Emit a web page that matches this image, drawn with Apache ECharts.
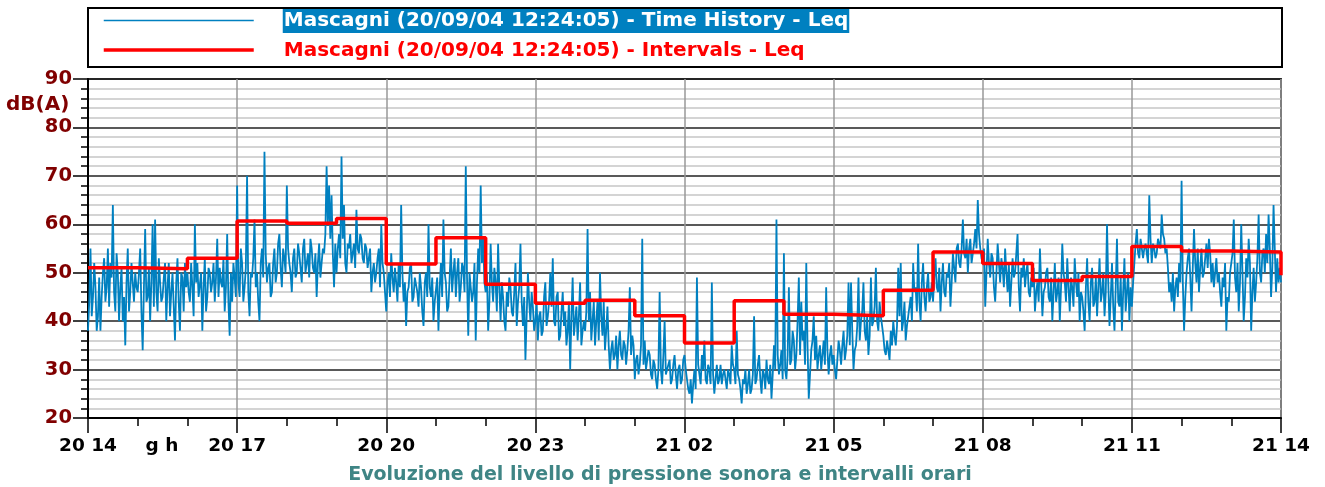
<!DOCTYPE html>
<html><head><meta charset="utf-8">
<script src="https://cdn.jsdelivr.net/npm/echarts@6/dist/echarts.min.js"></script>
<style>html,body{margin:0;padding:0;background:#fff}#c{width:1325px;height:487px}</style>
</head><body><div id="c"></div>
<script>
const FONT = 'DejaVu Sans';
const seriesNames = [
  'Mascagni (20/09/04 12:24:05) - Time History - Leq',
  'Mascagni (20/09/04 12:24:05) - Intervals - Leq'
];
const tickLabels = ['20 14','20 17','20 20','20 23','21 02','21 05','21 08','21 11','21 14'];
const axisUnitLabel = 'g h';
const yUnitLabel = 'dB(A)';
const chartTitle = 'Evoluzione del livello di pressione sonora e intervalli orari';
const sampleMinutes = 1.5;
// time history, one value every 1.5 minutes from 20 14:00 to 21 14:00 (40 per hour)
const timeHistoryLeq = [
  /*14*/ 38,44,55,41,45,52,47,38,41,49,38,45,50,53,44,47,55,43,52,49,64,46,42,54,50,40,47,51,40,45,35,48,55,42,46,52,48,44,50,47,
  /*15*/ 46,50,55,42,34,47,59,44,45,51,40,48,60,43,61,46,42,53,48,44,45,49,52,40,47,52,41,46,50,43,36,48,53,44,38,50,49,42,52,47,
  /*16*/ 50,46,44,52,47,41,60,48,52,45,45,50,38,47,53,42,45,51,50,46,48,52,44,49,57,45,51,48,47,53,42,47,58,44,37,50,44,52,49,45,
  /*17*/ 68,48,45,55,52,44,47,51,70,46,41,50,49,53,61,47,50,44,40,52,55,49,75,54,48,51,52,45,46,52,55,48,50,56,58,51,47,55,53,50,
  /*18*/ 68,55,52,50,46,53,55,49,50,56,54,51,48,55,57,50,52,54,49,57,55,51,50,54,45,52,56,49,52,55,54,58,72,60,68,57,66,54,47,56,
  /*19*/ 50,55,58,53,74,57,64,52,50,56,55,58,52,54,56,51,63,55,54,58,57,53,52,56,55,51,53,55,46,50,52,48,50,53,55,47,60,52,50,46,
  /*20*/ 42,48,50,45,54,49,46,51,48,44,52,47,64,50,44,48,39,46,47,51,52,44,45,49,49,46,43,50,47,42,39,48,50,45,60,47,45,49,40,44,
  /*21*/ 44,49,38,47,52,45,61,50,48,42,43,49,55,46,50,53,45,50,53,44,47,52,51,46,72,49,37,50,50,44,46,52,36,48,55,50,68,52,57,48,
  /*22*/ 46,50,38,44,56,48,44,51,48,42,56,47,40,48,45,40,38,46,43,49,47,42,41,46,52,39,44,47,56,44,39,45,32,41,50,44,40,46,43,38,
  /*23*/ 40,44,36,41,42,37,38,45,48,39,41,44,50,43,53,40,39,45,46,36,37,42,46,39,42,35,38,44,30,41,49,37,40,43,36,41,48,35,38,40,
  /*00*/ 38,42,59,40,46,36,40,44,35,40,44,36,50,41,37,44,34,38,43,35,30,34,36,32,33,37,30,35,38,33,32,36,35,31,34,38,47,33,37,35,
  /*01*/ 28,32,33,29,31,35,57,31,36,30,30,34,33,29,28,32,31,28,26,30,46,30,27,33,40,29,29,31,32,27,28,31,33,29,26,30,31,27,28,32,
  /*02*/ 33,30,28,26,25,28,23,27,30,26,49,31,29,27,33,30,36,28,27,31,30,27,48,29,25,28,31,27,28,31,27,29,30,28,26,30,29,27,35,31,
  /*03*/ 30,27,38,29,28,26,23,28,27,30,25,27,30,25,26,29,41,27,28,31,33,28,25,30,29,26,32,28,27,31,24,29,35,30,61,33,29,31,34,28,
  /*04*/ 54,30,28,33,47,31,32,38,36,30,33,40,49,33,44,36,38,31,52,35,24,29,34,36,41,32,37,30,33,35,30,33,36,31,47,34,29,33,35,31,
  /*05*/ 33,30,28,32,36,34,31,35,38,32,34,37,48,35,48,38,30,34,35,39,49,36,40,42,48,38,36,41,33,37,49,39,40,43,51,40,38,44,41,39,
  /*06*/ 37,34,33,36,36,32,38,35,40,37,35,39,51,41,52,38,40,44,36,39,41,43,45,40,52,46,47,42,56,44,40,48,52,45,42,47,50,44,45,48,
  /*07*/ 44,49,53,47,46,51,42,48,52,46,45,50,49,52,43,48,54,51,48,55,56,52,51,55,61,54,53,57,50,55,57,52,54,56,59,55,65,58,55,53,
  /*08*/ 52,55,43,50,57,52,49,54,53,47,44,50,56,52,48,53,51,47,55,50,46,52,43,48,53,49,50,54,58,47,42,51,49,53,47,50,52,46,45,49,
  /*09*/ 47,51,42,46,48,44,55,48,41,46,47,50,51,45,44,49,40,46,52,44,46,49,40,47,56,50,48,44,53,47,42,49,47,43,53,48,45,50,40,46,
  /*10*/ 45,42,38,47,53,44,40,48,51,43,44,49,41,47,53,44,46,50,41,46,60,48,39,45,52,43,38,47,57,44,43,49,38,46,53,42,46,50,40,47,
  /*11*/ 43,48,52,56,59,54,53,57,57,53,55,56,54,52,66,57,52,56,55,53,54,57,56,55,62,58,57,54,55,51,46,48,44,50,42,47,49,45,52,48,
  /*12*/ 69,48,38,45,50,53,55,49,42,51,59,52,48,55,46,51,55,49,50,53,56,51,57,54,48,52,47,50,53,48,50,46,43,49,47,52,38,45,44,50,
  /*13*/ 50,54,61,49,46,52,42,48,60,50,40,45,53,49,57,52,38,46,51,44,48,53,62,50,48,54,55,50,58,52,62,55,45,51,64,55,46,53,48,51,
  /*14*/ 48
];
// hourly interval Leq from 20 14 to 21 13
const intervalLeq = [51.0,50.8,53.0,60.7,60.2,61.2,51.8,57.2,47.6,43.7,44.3,41.1,
                     35.5,44.2,41.4,41.1,46.4,54.3,51.9,48.4,49.2,55.4,54.5,54.3];
const intervalEndLeq = 49.5;

const timeData = timeHistoryLeq.map((v, i) => [i * sampleMinutes, v]);
const stepData = intervalLeq.map((v, i) => [i * 60, v]);
stepData.push([intervalLeq.length * 60, intervalEndLeq]);

const chart = echarts.init(document.getElementById('c'), null, {renderer: 'canvas'});
chart.setOption({
  animation: false,
  backgroundColor: '#fff',
  textStyle: {fontFamily: FONT},
  title: {
    text: chartTitle, left: 655, textAlign: 'center', top: 461,
    textStyle: {color: '#3f8585', fontSize: 19, fontWeight: 'bold', fontFamily: FONT}
  },
  legend: {
    orient: 'vertical', left: 102, top: 8, padding: 0, itemGap: 7,
    itemWidth: 150, itemHeight: 14, selectedMode: false,
    data: [
      {name: seriesNames[0], itemStyle: {opacity: 0}, lineStyle: {color: '#0080c0', width: 1.5}},
      {name: seriesNames[1], itemStyle: {opacity: 0}, lineStyle: {color: '#ff0000', width: 3.5}}
    ],
    formatter: name => name === seriesNames[0] ? '{g|}{h|' + name + '}' : '{g|}{r|' + name + '}',
    textStyle: {
      fontFamily: FONT, fontSize: 20, fontWeight: 'bold',
      rich: {
        g: {width: 24},
        h: {color: '#fff', backgroundColor: '#0080c0', fontSize: 20, fontWeight: 'bold', fontFamily: FONT, padding: [3, 1, 2, 1]},
        r: {color: '#ff0000', fontSize: 20, fontWeight: 'bold', fontFamily: FONT, padding: [3, 1, 2, 1]}
      }
    }
  },
  grid: {left: 88, right: 44, top: 79, bottom: 69, show: true, borderColor: '#333', borderWidth: 2},
  xAxis: {
    type: 'value', min: 0, max: 1440, interval: 180,
    axisLine: {show: true, onZero: false, lineStyle: {color: '#000', width: 2}},
    axisTick: {show: true, length: 15, lineStyle: {color: '#000', width: 1.5}},
    minorTick: {show: true, splitNumber: 3, length: 8, lineStyle: {color: '#000', width: 1.5}},
    axisLabel: {
      formatter: v => tickLabels[Math.round(v / 180)] || '',
      color: '#000', fontSize: 18.5, fontWeight: 'bold', fontFamily: FONT, margin: 19,
      showMinLabel: true, showMaxLabel: true
    },
    splitLine: {show: true, lineStyle: {color: '#999', width: 1.5}},
    minorSplitLine: {show: false}
  },
  yAxis: {
    type: 'value', min: 20, max: 90, interval: 10,
    axisLine: {show: true, lineStyle: {color: '#000', width: 2}},
    axisTick: {show: true, length: 15, lineStyle: {color: '#000', width: 1.5}},
    minorTick: {show: true, splitNumber: 5, length: 7, lineStyle: {color: '#000', width: 1.5}},
    axisLabel: {color: '#800000', fontSize: 19.5, fontWeight: 'bold', fontFamily: FONT, margin: 16},
    splitLine: {show: true, lineStyle: {color: '#222', width: 1.5}},
    minorSplitLine: {show: true, lineStyle: {color: '#d4d4d4', width: 2}}
  },
  graphic: [
    {type: 'rect', shape: {x: 88, y: 8, width: 1194, height: 59}, style: {fill: 'none', stroke: '#000', lineWidth: 2}, z: 10},
    {type: 'text', x: 162, y: 446, style: {text: axisUnitLabel, textAlign: 'center', textVerticalAlign: 'middle', fill: '#000', fontSize: 18.5, fontWeight: 'bold', fontFamily: FONT}},
    {type: 'text', x: 6, y: 105, style: {text: yUnitLabel, textAlign: 'left', textVerticalAlign: 'middle', fill: '#800000', fontSize: 20, fontWeight: 'bold', fontFamily: FONT}}
  ],
  series: [
    {type: 'line', name: seriesNames[0], data: timeData, symbol: 'none', showSymbol: false,
     lineStyle: {color: '#0080c0', width: 1.8}, itemStyle: {color: '#0080c0'}, z: 2},
    {type: 'line', name: seriesNames[1], data: stepData, step: 'end', symbol: 'none', showSymbol: false,
     lineStyle: {color: '#ff0000', width: 3.5}, itemStyle: {color: '#ff0000'}, z: 3}
  ]
});
</script>
</body></html>
